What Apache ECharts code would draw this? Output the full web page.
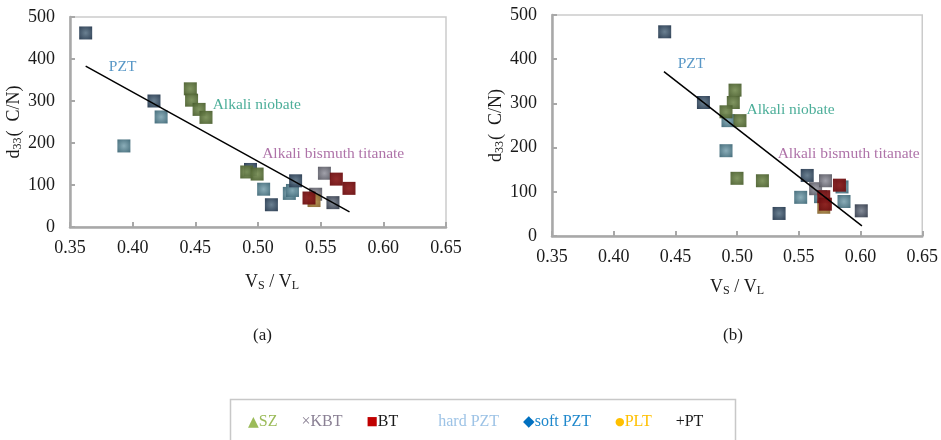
<!DOCTYPE html>
<html><head><meta charset="utf-8">
<script src="https://cdn.jsdelivr.net/npm/echarts@6/dist/echarts.min.js"></script>
<style>html,body{margin:0;padding:0;background:#fff}#c{width:941px;height:440px}</style>
</head><body><div id="c"></div>
<script>
// ---- data (x = Vs/Vl, y = d33) ----
var xTicks = [0.35, 0.40, 0.45, 0.50, 0.55, 0.60, 0.65];
var yTicks = [0, 100, 200, 300, 400, 500];
var seriesNames = ['hard PZT', 'soft PZT', 'SZ', 'KBT', 'PT', 'PLT', 'BT'];
var legendOrder = ['SZ', 'KBT', 'BT', 'hard PZT', 'soft PZT', 'PLT', 'PT'];

// panel (a)
var hardPZT_a = [[0.4227,262],[0.393,193],[0.5045,90],[0.525,80],[0.5275,87]];
var softPZT_a = [[0.3625,462],[0.417,300],[0.494,137],[0.5107,53],[0.530,110]];
var SZ_a      = [[0.446,329],[0.447,302],[0.453,280],[0.4585,261],[0.491,131],[0.4993,126]];
var KBT_a     = [[0.553,128],[0.546,78]];
var PT_a      = [[0.5598,58]];
var PLT_a     = [[0.5447,63]];
var BT_a      = [[0.5625,114],[0.5726,92],[0.5407,69]];
var fit_a     = [[0.3625,383],[0.573,36]];
var notes_a   = [[0.392,381,'PZT'],[0.499,290,'Alkali niobate'],[0.560,174,'Alkali bismuth titanate']];

// panel (b)
var hardPZT_b = [[0.4926,261],[0.491,193],[0.5515,87.5],[0.5676,89],[0.585,111],[0.5866,78]];
var softPZT_b = [[0.4413,462],[0.4727,302],[0.534,51],[0.5568,137]];
var SZ_b      = [[0.4983,330],[0.4969,302],[0.491,281],[0.5023,261],[0.4999,130.5],[0.5205,125]];
var KBT_b     = [[0.5636,107],[0.5716,125]];
var PT_b      = [[0.6006,57]];
var PLT_b     = [[0.5702,65]];
var BT_b      = [[0.5702,89],[0.5715,72],[0.5829,115]];
var fit_b     = [[0.4407,372],[0.6011,23]];
var notes_b   = [[0.463,389,'PZT'],[0.5433,285,'Alkali niobate'],[0.5904,185,'Alkali bismuth titanate']];

var panelData = [
  [hardPZT_a, softPZT_a, SZ_a, KBT_a, PT_a, PLT_a, BT_a],
  [hardPZT_b, softPZT_b, SZ_b, KBT_b, PT_b, PLT_b, BT_b]
];
var fits = [fit_a, fit_b];
var notes = [notes_a, notes_b];

// ---- styles ----
var FONT = "'Liberation Serif','Times New Roman',serif";
var markerCols = {
  'hard PZT': ['#85a9b5', '#36606f'],
  'soft PZT': ['#637a8c', '#1f3147'],
  'SZ':       ['#7a9058', '#45592a'],
  'KBT':      ['#9c9ca6', '#50505a'],
  'PT':       ['#7d8592', '#2a3242'],
  'PLT':      ['#bb9552', '#80602c'],
  'BT':       ['#8c2020', '#660b0d']
};
var noteColors = {'PZT':'#2e7db8','Alkali niobate':'#1f9a80','Alkali bismuth titanate':'#9a4f92'};

function grad(n){
  return {type:'radial', x:0.5, y:0.5, r:0.75, colorStops:[
    {offset:0, color:markerCols[n][0]}, {offset:1, color:markerCols[n][1]}]};
}

var grids = [
  {left:70, top:17, width:376, height:210},
  {left:552, top:15, width:372, height:221}
];

var xAxes = [], yAxes = [], series = [];
for (var g = 0; g < 2; g++) {
  grids[g].show = true;
  grids[g].borderColor = '#cbcbcb';
  grids[g].borderWidth = 1.5;
  grids[g].backgroundColor = 'transparent';
  xAxes.push({
    gridIndex:g, type:'value', min:xTicks[0], max:xTicks[xTicks.length-1], interval:0.05,
    axisLine:{show:true, onZero:false, lineStyle:{color:'#a8a8a8', width:2.5}},
    axisTick:{show:true, inside:true, length:5, lineStyle:{color:'#a8a8a8', width:2}},
    splitLine:{show:false},
    axisLabel:{color:'#1a1a1a', fontFamily:FONT, fontSize:18, margin:12,
      formatter:function(v){return v.toFixed(2);}},
    name: '{a|V}{s|S}{a| / V}{s|L}',
    nameLocation:'middle', nameGap: g===0 ? 45 : 41,
    nameTextStyle:{padding: g===0 ? [0,0,0,28] : 0,
      rich:{a:{fontFamily:FONT, fontSize:18, color:'#1a1a1a'},
            s:{fontFamily:FONT, fontSize:12, color:'#1a1a1a', padding:[8,0,0,0]}}}
  });
  yAxes.push({
    gridIndex:g, type:'value', min:yTicks[0], max:yTicks[yTicks.length-1], interval:100,
    axisLine:{show:true, onZero:false, lineStyle:{color:'#a8a8a8', width:2.5}},
    axisTick:{show:true, inside:true, length:5, lineStyle:{color:'#a8a8a8', width:2}},
    splitLine:{show:false},
    axisLabel:{color:'#1a1a1a', fontFamily:FONT, fontSize:18, margin:15},
    name:'{a|d}{s|33}{a|(  C/N)}',
    nameLocation:'middle', nameGap: g===0 ? 45 : 46, nameRotate:90,
    nameTextStyle:{rich:{a:{fontFamily:FONT, fontSize:18, color:'#1a1a1a'},
            s:{fontFamily:FONT, fontSize:12, color:'#1a1a1a', padding:[8,1,0,0]}}}
  });
  for (var k = 0; k < seriesNames.length; k++) {
    var n = seriesNames[k];
    series.push({
      type:'scatter', name:n, xAxisIndex:g, yAxisIndex:g,
      data: panelData[g][k], symbol:'rect', symbolSize:13,
      itemStyle:{color:grad(n), opacity:0.95}, z:3
    });
  }
  series.push({
    type:'line', name:'fit'+g, xAxisIndex:g, yAxisIndex:g, data:fits[g],
    symbol:'none', lineStyle:{color:'#000', width:1.5}, z:4, silent:true
  });
  series.push({
    type:'scatter', name:'notes'+g, xAxisIndex:g, yAxisIndex:g, symbolSize:0,
    data: notes[g].map(function(d){return {value:[d[0],d[1]], label:{color:noteColors[d[2]], formatter:d[2]}};}),
    label:{show:true, position:'inside', fontFamily:FONT, fontSize:15.5}, z:5, silent:true
  });
}

var legendText = {
  'SZ':'{tri|▲}{sz|SZ}',
  'KBT':'{kb|×KBT}',
  'BT':'{sq|■}{bt|BT}',
  'hard PZT':'{hd|hard PZT}',
  'soft PZT':'{di|◆}{sf|soft PZT}',
  'PLT':'{dt|●}{pl|PLT}',
  'PT':'{pt|+PT}'
};

var option = {
  backgroundColor:'#fff',
  animation:false,
  grid: grids, xAxis: xAxes, yAxis: yAxes, series: series,
  legend:{
    left:238, top:409, itemWidth:0, itemHeight:0, itemGap:19, icon:'rect',
    selectedMode:false,
    data: legendOrder,
    formatter:function(n){return legendText[n];},
    textStyle:{fontFamily:FONT, fontSize:16, rich:{
      tri:{fontFamily:'DejaVu Sans', fontSize:14, color:'#9bbb59'},
      sz:{fontFamily:FONT, fontSize:16, color:'#9bbb59'},
      kb:{fontFamily:FONT, fontSize:16, color:'#8a8094'},
      sq:{fontFamily:'DejaVu Sans', fontSize:12, color:'#c00000'},
      bt:{fontFamily:FONT, fontSize:16, color:'#1a1a1a'},
      hd:{fontFamily:FONT, fontSize:16, color:'#9dc3e6', padding:[0,0,0,16]},
      di:{fontFamily:'DejaVu Sans', fontSize:15, color:'#0070c0'},
      sf:{fontFamily:FONT, fontSize:16, color:'#1f88cc'},
      dt:{fontFamily:'DejaVu Sans', fontSize:11, color:'#ffc000'},
      pl:{fontFamily:FONT, fontSize:16, color:'#ffc000'},
      pt:{fontFamily:FONT, fontSize:16, color:'#1a1a1a'}
    }}
  },
  graphic:[
    {type:'rect', left:228, top:397, shape:{width:505, height:60},
     style:{fill:'none', stroke:'#c8c8c8', lineWidth:1.5}, silent:true},
    {type:'text', left:253, top:327, style:{text:'(a)', font:'17px '+FONT, fill:'#1a1a1a'}},
    {type:'text', left:723, top:327, style:{text:'(b)', font:'17px '+FONT, fill:'#1a1a1a'}}
  ]
};
echarts.init(document.getElementById('c'), null, {renderer:'canvas'}).setOption(option);
</script>
</body></html>
